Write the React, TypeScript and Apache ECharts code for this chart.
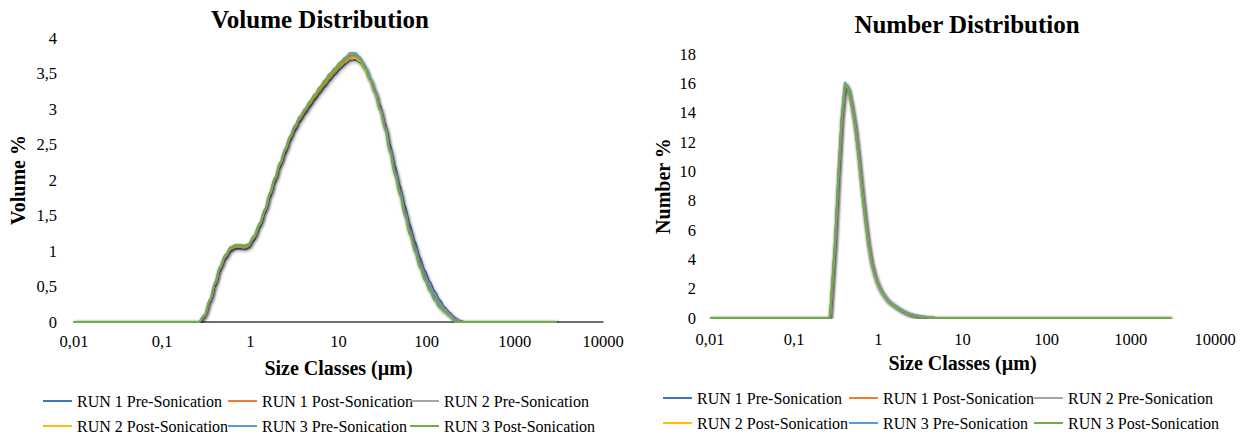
import React, { useEffect, useRef } from 'react';
import * as echarts from 'echarts';

const SERIES_NAMES = [
  'RUN 1 Pre-Sonication',
  'RUN 1 Post-Sonication',
  'RUN 2 Pre-Sonication',
  'RUN 2 Post-Sonication',
  'RUN 3 Pre-Sonication',
  'RUN 3 Post-Sonication',
];
const SERIES_COLORS = ['#4472C4', '#ED7D31', '#A5A5A5', '#FFC000', '#5B9BD5', '#70AD47'];

// Size classes (µm) for the volume distribution
const VOLUME_SIZES = [
  0.01, 0.1, 0.26, 0.3, 0.35, 0.4, 0.45, 0.52, 0.6, 0.68, 0.76, 0.86, 0.95, 1.1, 1.28, 1.47, 1.67, 1.9,
  2.17, 2.5, 2.81, 3.2, 3.65, 4.2, 4.74, 5.4, 6.15, 7, 7.98, 9.1, 10.4, 12, 13.5, 15.5, 17.5, 20, 22.7,
  26, 29.5, 34, 38.3, 44, 49.7, 57, 64.5, 74, 83.8, 96, 108.8, 124, 141, 160, 183, 210, 240, 270, 300,
  1000, 3000,
];
const VOL_RUN1_PRE = [
  0, 0, 0, 0.06, 0.27, 0.5, 0.71, 0.88, 0.99, 1.03, 1.03, 1.02, 1.04, 1.15, 1.33, 1.53, 1.75, 1.96,
  2.17, 2.37, 2.54, 2.69, 2.82, 2.93, 3.03, 3.13, 3.22, 3.31, 3.4, 3.48, 3.56, 3.63, 3.68, 3.69, 3.66,
  3.57, 3.43, 3.26, 3.05, 2.79, 2.5, 2.19, 1.92, 1.63, 1.37, 1.13, 0.91, 0.72, 0.57, 0.43, 0.31, 0.21,
  0.13, 0.06, 0.02, 0, 0, 0, 0,
];
const VOL_RUN1_POST = [
  0, 0, 0, 0.08, 0.3, 0.54, 0.75, 0.92, 1.03, 1.06, 1.06, 1.05, 1.07, 1.19, 1.37, 1.57, 1.79, 2.0,
  2.21, 2.41, 2.58, 2.73, 2.86, 2.97, 3.07, 3.17, 3.26, 3.35, 3.44, 3.52, 3.6, 3.66, 3.71, 3.72, 3.68,
  3.58, 3.43, 3.25, 3.03, 2.76, 2.46, 2.14, 1.87, 1.57, 1.31, 1.07, 0.85, 0.66, 0.5, 0.37, 0.26, 0.18,
  0.11, 0.05, 0.01, 0, 0, 0, 0,
];
const VOL_RUN2_PRE = [
  0, 0, 0, 0.08, 0.31, 0.55, 0.76, 0.93, 1.04, 1.07, 1.07, 1.06, 1.08, 1.2, 1.38, 1.58, 1.81, 2.02,
  2.23, 2.43, 2.6, 2.75, 2.88, 2.99, 3.09, 3.19, 3.29, 3.38, 3.47, 3.55, 3.63, 3.7, 3.75, 3.75, 3.7,
  3.59, 3.43, 3.25, 3.02, 2.75, 2.44, 2.12, 1.85, 1.55, 1.29, 1.05, 0.83, 0.65, 0.5, 0.37, 0.26, 0.18,
  0.11, 0.04, 0, 0, 0, 0, 0,
];
const VOL_RUN2_POST = [
  0, 0, 0, 0.08, 0.3, 0.54, 0.75, 0.92, 1.03, 1.06, 1.06, 1.05, 1.07, 1.19, 1.37, 1.57, 1.8, 2.01,
  2.22, 2.42, 2.59, 2.74, 2.87, 2.98, 3.08, 3.18, 3.27, 3.36, 3.45, 3.53, 3.61, 3.67, 3.72, 3.72, 3.67,
  3.56, 3.4, 3.21, 2.98, 2.71, 2.4, 2.07, 1.8, 1.5, 1.24, 1.0, 0.78, 0.6, 0.45, 0.32, 0.22, 0.15, 0.09,
  0.02, 0, 0, 0, 0, 0,
];
const VOL_RUN3_PRE = [
  0, 0, 0, 0.09, 0.32, 0.56, 0.77, 0.94, 1.05, 1.08, 1.08, 1.07, 1.09, 1.21, 1.39, 1.59, 1.82, 2.03,
  2.24, 2.44, 2.61, 2.76, 2.89, 3.0, 3.11, 3.21, 3.31, 3.41, 3.5, 3.58, 3.66, 3.73, 3.79, 3.79, 3.73,
  3.61, 3.44, 3.25, 3.01, 2.73, 2.42, 2.09, 1.82, 1.52, 1.26, 1.02, 0.8, 0.62, 0.47, 0.34, 0.23, 0.16,
  0.1, 0.03, 0, 0, 0, 0, 0,
];
const VOL_RUN3_POST = [
  0, 0, 0, 0.1, 0.33, 0.57, 0.78, 0.95, 1.06, 1.09, 1.09, 1.08, 1.1, 1.22, 1.4, 1.6, 1.83, 2.04, 2.25,
  2.45, 2.62, 2.77, 2.9, 3.01, 3.11, 3.21, 3.31, 3.4, 3.49, 3.57, 3.65, 3.72, 3.78, 3.77, 3.7, 3.58,
  3.41, 3.22, 2.98, 2.7, 2.38, 2.05, 1.78, 1.48, 1.22, 0.98, 0.76, 0.58, 0.43, 0.3, 0.2, 0.14, 0.09, 0,
  0, 0, 0, 0, 0,
];

// Size classes (µm) for the number distribution
const NUMBER_SIZES = [
  0.01, 0.1, 0.25, 0.266, 0.305, 0.334, 0.366, 0.401, 0.439, 0.48, 0.527, 0.58, 0.634, 0.7, 0.759,
  0.83, 0.912, 1.0, 1.094, 1.3, 1.574, 1.9, 2.26, 2.7, 3.27, 4.0, 4.7, 5.5, 10, 100, 1000, 3000,
];
const NUM_RUN1_PRE = [
  0, 0, 0, 0.04, 5.0, 9.5, 13.5, 15.9, 15.6, 14.6, 13.2, 11.1, 8.9, 6.7, 5.1, 3.8, 2.9, 2.25, 1.8, 1.2,
  0.84, 0.53, 0.32, 0.19, 0.11, 0.05, 0.02, 0, 0, 0, 0, 0,
];
const NUM_RUN1_POST = [
  0, 0, 0, 0.05, 5.1, 9.6, 13.6, 16.0, 15.6, 14.5, 13.1, 11.1, 8.9, 6.7, 5.0, 3.7, 2.8, 2.2, 1.77,
  1.17, 0.82, 0.52, 0.31, 0.19, 0.1, 0.05, 0.02, 0, 0, 0, 0, 0,
];
const NUM_RUN2_PRE = [
  0, 0, 0, 0.04, 5.0, 9.5, 13.5, 15.9, 15.7, 14.6, 13.2, 11.2, 9.0, 6.8, 5.2, 3.9, 3.0, 2.3, 1.85,
  1.25, 0.88, 0.56, 0.34, 0.2, 0.12, 0.06, 0.02, 0, 0, 0, 0, 0,
];
const NUM_RUN2_POST = [
  0, 0, 0, 0.05, 5.2, 9.7, 13.6, 16.0, 15.6, 14.5, 13.1, 11.0, 8.8, 6.6, 5.0, 3.7, 2.8, 2.2, 1.76,
  1.16, 0.81, 0.51, 0.3, 0.18, 0.1, 0.05, 0.02, 0, 0, 0, 0, 0,
];
const NUM_RUN3_PRE = [
  0, 0, 0, 0.05, 5.2, 9.7, 13.7, 16.1, 15.7, 14.6, 13.1, 11.0, 8.8, 6.6, 5.0, 3.7, 2.8, 2.2, 1.78,
  1.2, 0.85, 0.55, 0.34, 0.21, 0.12, 0.06, 0.02, 0, 0, 0, 0, 0,
];
const NUM_RUN3_POST = [
  0, 0, 0, 0.05, 5.2, 9.7, 13.6, 16.0, 15.6, 14.5, 13.1, 11.0, 8.8, 6.6, 5.0, 3.7, 2.8, 2.2, 1.75,
  1.15, 0.8, 0.5, 0.3, 0.18, 0.1, 0.05, 0.02, 0, 0, 0, 0, 0,
];

const VOLUME_VALUES = [VOL_RUN1_PRE, VOL_RUN1_POST, VOL_RUN2_PRE, VOL_RUN2_POST, VOL_RUN3_PRE, VOL_RUN3_POST];
const NUMBER_VALUES = [NUM_RUN1_PRE, NUM_RUN1_POST, NUM_RUN2_PRE, NUM_RUN2_POST, NUM_RUN3_PRE, NUM_RUN3_POST];

const X_MIN = 0.01;
const X_MAX = 10000;
const VOLUME_Y_MAX = 4;
const VOLUME_Y_STEP = 0.5;
const NUMBER_Y_MAX = 18;
const NUMBER_Y_STEP = 2;

const FONT = "'Liberation Serif', 'Times New Roman', serif";

const fmtX = (v: number) => {
  const e = Math.round(Math.log10(v));
  if (e < 0) return '0,' + '0'.repeat(-e - 1) + '1';
  return String(Math.pow(10, e));
};
const fmtY = (v: number) => String(Math.round(v * 100) / 100).replace('.', ',');

function buildOption() {
  const grids = [
    { left: 74, top: 38, width: 529, height: 284 },
    { left: 710, top: 54, width: 505, height: 264 },
  ];
  const xAxes = [0, 1].map((i) => ({
    type: 'log',
    logBase: 10,
    gridIndex: i,
    min: X_MIN,
    max: X_MAX,
    splitNumber: 6,
    name: 'Size Classes (µm)',
    nameLocation: 'middle',
    nameGap: i === 0 ? 36 : 32,
    nameTextStyle: { fontFamily: FONT, fontWeight: 'bold', fontSize: 20, color: '#000' },
    axisLine: { show: i === 0, onZero: false, lineStyle: { color: '#404040', width: 1.5 } },
    axisTick: { show: false },
    splitLine: { show: false },
    minorSplitLine: { show: false },
    axisLabel: {
      formatter: fmtX,
      fontFamily: FONT,
      fontSize: 16.5,
      color: '#000',
      margin: i === 0 ? 11 : 13,
    },
  }));
  const yAxes = [0, 1].map((i) => ({
    type: 'value',
    gridIndex: i,
    min: 0,
    max: i === 0 ? VOLUME_Y_MAX : NUMBER_Y_MAX,
    interval: i === 0 ? VOLUME_Y_STEP : NUMBER_Y_STEP,
    name: i === 0 ? 'Volume %' : 'Number %',
    nameLocation: 'middle',
    nameRotate: 90,
    nameGap: i === 0 ? 46 : 37,
    nameTextStyle: { fontFamily: FONT, fontWeight: 'bold', fontSize: 20, color: '#000' },
    axisLine: { show: false },
    axisTick: { show: false },
    splitLine: { show: false },
    axisLabel: {
      formatter: fmtY,
      fontFamily: FONT,
      fontSize: 16.5,
      color: '#000',
      margin: i === 0 ? 17 : 14,
    },
  }));

  const series: any[] = [];
  SERIES_NAMES.forEach((name, k) => {
    series.push({
      type: 'line',
      name,
      xAxisIndex: 0,
      yAxisIndex: 0,
      data: VOLUME_SIZES.map((s, j) => [s, VOLUME_VALUES[k][j]]),
      symbol: 'none',
      smooth: 0.3,
      smoothMonotone: 'x',
      color: SERIES_COLORS[k],
      lineStyle: {
        width: 1.8,
        color: SERIES_COLORS[k],
        shadowColor: 'rgba(0,0,0,0.3)',
        shadowBlur: 3,
        shadowOffsetX: 1,
        shadowOffsetY: 1.5,
      },
    });
  });
  SERIES_NAMES.forEach((name, k) => {
    series.push({
      type: 'line',
      name,
      xAxisIndex: 1,
      yAxisIndex: 1,
      data: NUMBER_SIZES.map((s, j) => [s, NUMBER_VALUES[k][j]]),
      symbol: 'none',
      smooth: false,
      color: SERIES_COLORS[k],
      lineStyle: {
        width: 1.8,
        color: SERIES_COLORS[k],
        shadowColor: 'rgba(0,0,0,0.3)',
        shadowBlur: 3,
        shadowOffsetX: 1,
        shadowOffsetY: 1.5,
      },
    });
  });

  const legendCol = (left: number, top: number, names: string[]) => ({
    type: 'plain',
    orient: 'vertical',
    left,
    top,
    width: 200,
    height: 80,
    padding: 0,
    data: names,
    icon: 'rect',
    itemWidth: 29,
    itemHeight: 2,
    itemGap: 9,
    selectedMode: false,
    textStyle: { fontFamily: FONT, fontSize: 16, color: '#000', lineHeight: 16 },
  });
  const colNames = [
    [SERIES_NAMES[0], SERIES_NAMES[3]],
    [SERIES_NAMES[1], SERIES_NAMES[4]],
    [SERIES_NAMES[2], SERIES_NAMES[5]],
  ];
  const legends = [
    legendCol(43, 393, colNames[0]),
    legendCol(228, 393, colNames[1]),
    legendCol(410, 393, colNames[2]),
    legendCol(663, 390, colNames[0]),
    legendCol(849, 390, colNames[1]),
    legendCol(1034, 390, colNames[2]),
  ];

  return {
    animation: false,
    backgroundColor: '#ffffff',
    title: [
      {
        text: 'Volume Distribution',
        left: 315,
        top: 2,
        textAlign: 'center',
        textStyle: { fontFamily: FONT, fontWeight: 'bold', fontSize: 25, color: '#000' },
      },
      {
        text: 'Number Distribution',
        left: 962,
        top: 7,
        textAlign: 'center',
        textStyle: { fontFamily: FONT, fontWeight: 'bold', fontSize: 25, color: '#000' },
      },
    ],
    grid: grids,
    xAxis: xAxes,
    yAxis: yAxes,
    legend: legends,
    series,
  };
}

export default function App() {
  const ref = useRef<HTMLDivElement>(null);
  useEffect(() => {
    if (!ref.current) return;
    const chart = echarts.init(ref.current, undefined, { renderer: 'svg' });
    chart.setOption(buildOption() as any);
    return () => chart.dispose();
  }, []);
  return (
    <div
      ref={ref}
      style={{ position: 'absolute', left: 0, top: 0, width: 1247, height: 436, background: '#fff' }}
    />
  );
}
